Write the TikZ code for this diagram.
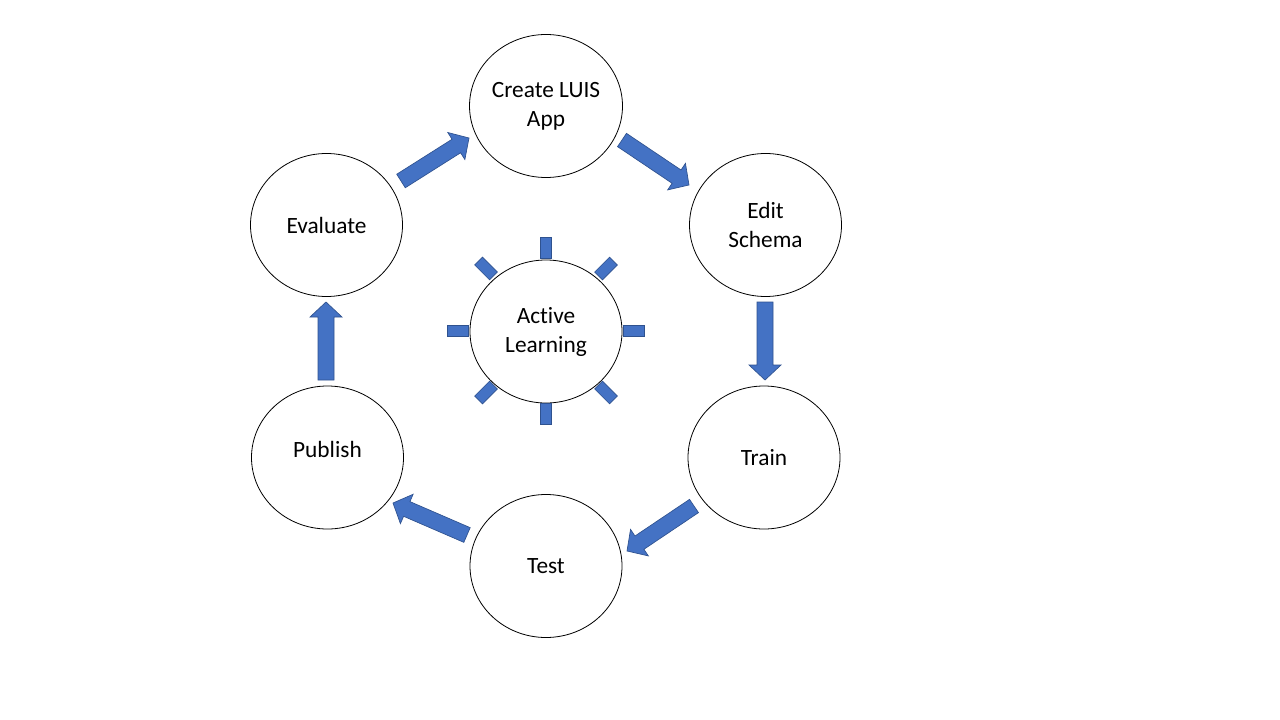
\documentclass[tikz,border=0pt]{standalone}
\usepackage{fontspec}
\setmainfont{Carlito}[Ligatures={NoCommon}]
\usetikzlibrary{calc,shapes.geometric}
\definecolor{arrfill}{HTML}{4472C4}
\definecolor{arrdraw}{HTML}{2F528F}
\tikzset{
  stage/.style={ellipse, draw=black, line width=0.6pt, fill=white, inner sep=0pt,
    minimum width=114pt, minimum height=107.25pt, align=center,
    font=\fontsize{17.5pt}{21.75pt}\selectfont},
  barrow/.style={fill=arrfill, draw=arrdraw, line width=0.5pt, line join=miter},
  ray/.style={rectangle, fill=arrfill, draw=arrdraw, line width=0.5pt, inner sep=0pt,
    minimum width=15.75pt, minimum height=8.25pt}
}
\newcommand\blockarr[2]{%
  \coordinate (nk) at ($(#2)!11.25pt!(#1)$);
  \filldraw[barrow] ($(#1)!6pt!90:(#2)$) -- ($(nk)!6pt!90:(#2)$) -- ($(nk)!12pt!90:(#2)$) -- (#2)
    -- ($(nk)!12pt!-90:(#2)$) -- ($(nk)!6pt!-90:(#2)$) -- ($(#1)!6pt!-90:(#2)$) -- cycle;}
\begin{document}
\begin{tikzpicture}[x=0.75pt,y=-0.75pt]
\fill[white] (0,0) rectangle (1280,720);
\useasboundingbox (0,0) rectangle (1280,720);

\node[stage] (create) at (546,106) {Create LUIS\\App};
\node[stage] (edit) at (765.5,225) {Edit\\Schema};
\node[stage] (train) at (764,457.5) {Train};
\node[stage] (test) at (546,566) {Test};
\node[stage, text depth=12pt] (publish) at (327.5,457.5) {Publish};
\node[stage] (evaluate) at (326.5,225) {Evaluate};
\node[stage] (active) at (546,331.5) {Active\\Learning};

% rays around Active Learning
\node[ray, rotate=0]   (r0) at ($(active.center)+(87.5,-1)$) {};
\node[ray, rotate=45]  (r1) at ($(active.center)+(60,-63)$) {};
\node[ray, rotate=90]  (r2) at ($(active.center)+(0,-83.5)$) {};
\node[ray, rotate=135] (r3) at ($(active.center)+(-60,-63)$) {};
\node[ray, rotate=180] (r4) at ($(active.center)+(-88,-1)$) {};
\node[ray, rotate=225] (r5) at ($(active.center)+(-60,61)$) {};
\node[ray, rotate=270] (r6) at ($(active.center)+(0,82)$) {};
\node[ray, rotate=315] (r7) at ($(active.center)+(60,61)$) {};

% arrow end points
\coordinate (t1) at (401,181);   \coordinate (h1) at (469,138);
\coordinate (t2) at (622,140);   \coordinate (h2) at (689,185);
\coordinate (t3) at (765,302);   \coordinate (h3) at (765,380);
\coordinate (t4) at (694,506);   \coordinate (h4) at (627,551);
\coordinate (t5) at (467,535);   \coordinate (h5) at (393,503);
\coordinate (t6) at (326,380);   \coordinate (h6) at (326,302);

\blockarr{t1}{h1}
\blockarr{t2}{h2}
\blockarr{t3}{h3}
\blockarr{t4}{h4}
\blockarr{t5}{h5}
\blockarr{t6}{h6}
\end{tikzpicture}
\end{document}
